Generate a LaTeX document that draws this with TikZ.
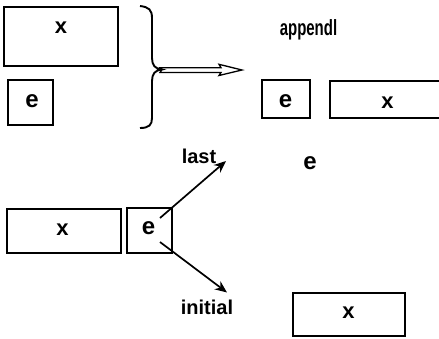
\documentclass[tikz,border=0pt]{standalone}
\usepackage{fontspec}
\setmainfont{Liberation Sans}
\newfontfamily\condfont[FakeStretch=0.68]{Liberation Sans}
\usetikzlibrary{arrows.meta}
\begin{document}
\begin{tikzpicture}[x=1pt,y=-1pt,
  box/.style={draw,line width=1.5pt,inner sep=0pt,rectangle},
  xlab/.style={inner sep=0pt,font=\fontsize{22}{22}\selectfont\bfseries},
  elab/.style={inner sep=0pt,font=\fontsize{24}{24}\selectfont\bfseries},
  wlab/.style={inner sep=0pt,anchor=base,font=\fontsize{20}{20}\selectfont\bfseries},
  arr/.style={line width=1.7pt,-{Stealth[length=12pt,width=10pt]}}]
\useasboundingbox (0,0) rectangle (439,338);
% boxes
\node[box,minimum width=114pt,minimum height=59pt] (topx) at (61,36.5) {};
\node[box,minimum width=45pt,minimum height=45pt] (tope) at (30.5,102.5) {};
\node[box,minimum width=48pt,minimum height=38pt] (rte) at (286,99) {};
\node[box,minimum width=111pt,minimum height=37pt] (rtx) at (385.5,99.5) {};
\node[box,minimum width=114pt,minimum height=44pt] (btx) at (64,231) {};
\node[box,minimum width=45pt,minimum height=45pt] (bte) at (149.5,230.5) {};
\node[box,minimum width=112pt,minimum height=43pt] (brx) at (349,314.5) {};
% box texts
\node[xlab] (topxt) at (61,28) {x};
\node[elab] (topet) at (32,101) {e};
\node[elab] (rtet) at (285.5,101.5) {e};
\node[xlab] (rtxt) at (387.5,102.5) {x};
\node[xlab] (btxt) at (62.5,229.5) {x};
\node[elab] (btet) at (148.5,228.5) {e};
\node[xlab] (brxt) at (348.5,312.5) {x};
% free texts
\node[elab] (fe) at (310,163) {e};
\node[inner sep=0pt,anchor=base,font=\fontsize{22}{22}\selectfont\condfont\bfseries] (app) at (308.5,35.5) {appendl};
\node[wlab] (last) at (199,163) {last};
\node[wlab] (init) at (207,314) {initial};
% brace
\coordinate (bt) at (162,69.5);
\draw[line width=1.9pt] (140,6) .. controls (149,7) and (152,10) .. (152,18)
  -- (152,58) .. controls (152,65) and (155,69) .. (bt)
  .. controls (155,70) and (152,74) .. (152,81)
  -- (152,118) .. controls (152,125) and (149,128) .. (140,128);
% hollow arrow
\coordinate (ht) at (242,70);
\draw[line width=1.3pt,line join=miter] (bt) -- (160,67.7) -- (221,67.7) -- (219,64.3) -- (ht)
  -- (219,75.5) -- (221,72.5) -- (160,72.5) -- cycle;
% last / initial arrows
\coordinate (ls) at (160,218);
\coordinate (le) at (226,161);
\coordinate (is) at (160,242);
\coordinate (ie) at (227,292.5);
\draw[arr] (ls) -- (le);
\draw[arr] (is) -- (ie);
\end{tikzpicture}
\end{document}
